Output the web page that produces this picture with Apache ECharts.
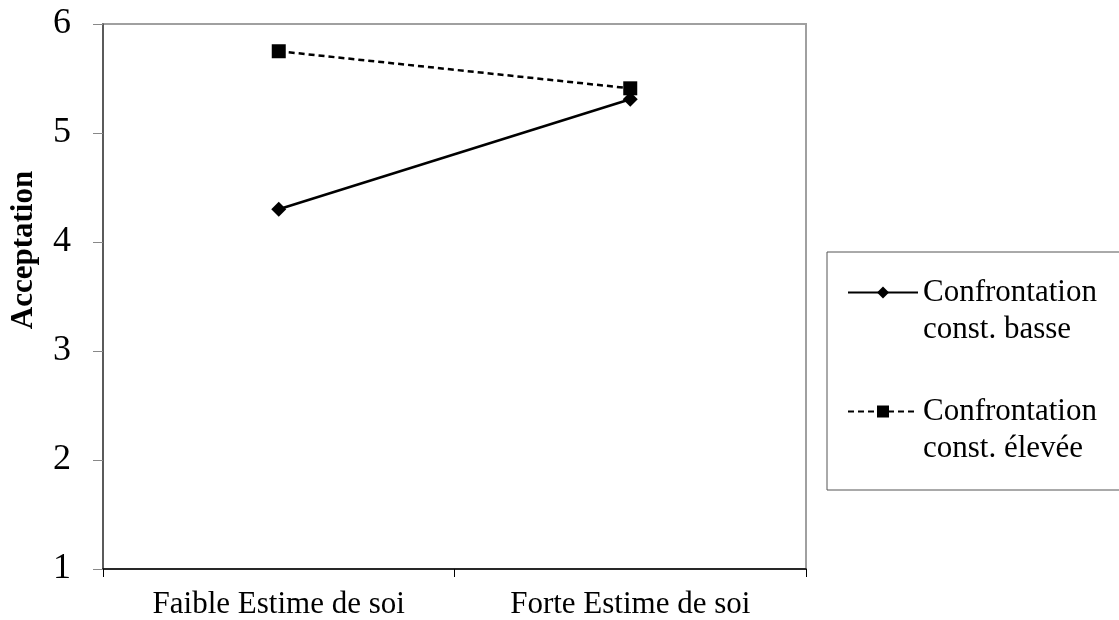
<!DOCTYPE html>
<html>
<head>
<meta charset="utf-8">
<script src="https://cdn.jsdelivr.net/npm/echarts@6/dist/echarts.min.js"></script>
<style>
html,body{margin:0;padding:0;background:#fff;}
#chart{width:1119px;height:620px;}
</style>
</head>
<body>
<div id="chart"></div>
<script>
const categories = ['Faible Estime de soi', 'Forte Estime de soi'];
const seriesNames = ['Confrontation\nconst. basse', 'Confrontation\nconst. élevée'];
const basseValues = [4.30, 5.31];
const eleveeValues = [5.75, 5.41];
const yTicks = [1, 2, 3, 4, 5, 6];
const yAxisTitle = 'Acceptation';

const FONT = '"Liberation Serif", "Times New Roman", serif';
const chart = echarts.init(document.getElementById('chart'), null, {renderer: 'canvas'});
chart.setOption({
  animation: false,
  backgroundColor: '#ffffff',
  grid: {
    left: 103, right: 313, top: 24, bottom: 51,
    outerBoundsMode: 'none',
    containLabel: false,
    show: true, borderColor: '#a0a0a0', borderWidth: 2, backgroundColor: 'transparent'
  },
  xAxis: {
    type: 'category',
    data: categories,
    boundaryGap: true,
    axisLine: {show: true, lineStyle: {color: '#000', width: 1.5}},
    axisTick: {show: true, length: 8, lineStyle: {color: '#000', width: 1}},
    axisLabel: {fontFamily: FONT, fontSize: 31, color: '#000', margin: 20},
    splitLine: {show: false}
  },
  yAxis: {
    type: 'value',
    min: yTicks[0],
    max: yTicks[yTicks.length - 1],
    interval: 1,
    axisLine: {show: true, lineStyle: {color: '#444', width: 1.5}},
    axisTick: {show: true, length: 10, lineStyle: {color: '#888', width: 1}},
    axisLabel: {fontFamily: FONT, fontSize: 36, color: '#000', margin: 32},
    splitLine: {show: false}
  },
  legend: {
    orient: 'vertical',
    left: 847,
    top: 237,
    padding: 0,
    itemGap: 8,
    itemWidth: 70,
    itemHeight: 15,
    data: seriesNames,
    formatter: function (name) { return '\n' + name; },
    textStyle: {
      fontFamily: FONT, fontSize: 31, color: '#000', lineHeight: 37
    }
  },
  graphic: [
    {
      type: 'rect',
      shape: {x: 827, y: 252, width: 330, height: 238},
      style: {fill: 'none', stroke: '#555', lineWidth: 1},
      silent: true
    },
    {
      type: 'text',
      x: 24, y: 250,
      rotation: Math.PI / 2,
      style: {
        text: yAxisTitle,
        font: 'bold 31px ' + FONT,
        fill: '#000',
        textAlign: 'center',
        textVerticalAlign: 'middle'
      }
    }
  ],
  series: [
    {
      name: seriesNames[0],
      type: 'line',
      data: basseValues,
      symbol: 'diamond',
      symbolSize: 15,
      lineStyle: {color: '#000', width: 2.5, type: 'solid'},
      itemStyle: {color: '#000'}
    },
    {
      name: seriesNames[1],
      type: 'line',
      data: eleveeValues,
      symbol: 'rect',
      symbolSize: 14,
      lineStyle: {color: '#000', width: 2.5, type: [6, 4]},
      itemStyle: {color: '#000'}
    }
  ]
});
</script>
</body>
</html>
